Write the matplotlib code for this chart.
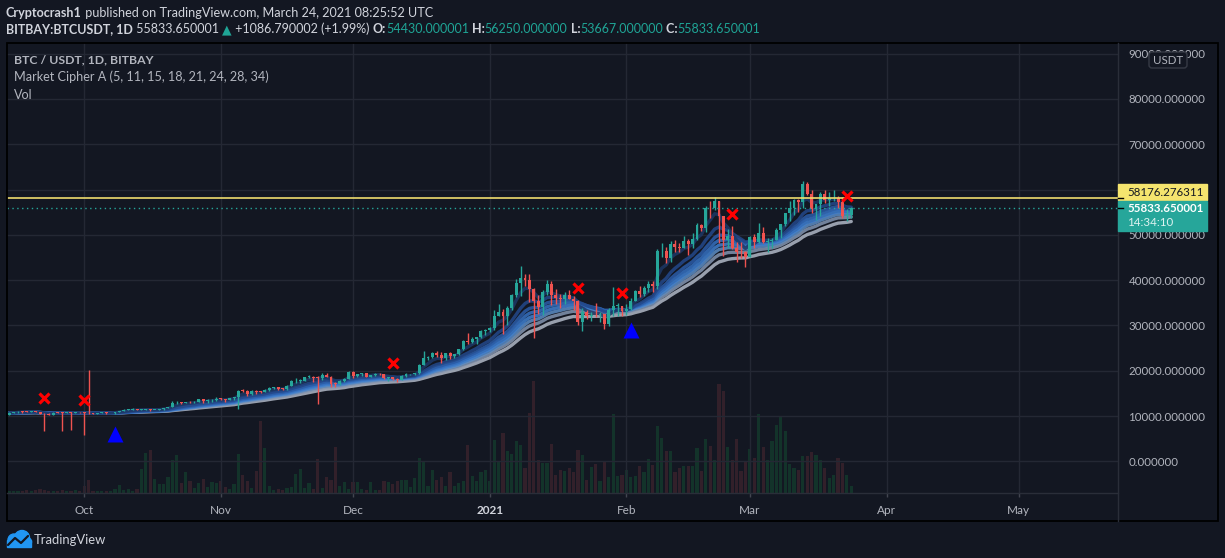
import matplotlib as mpl
mpl.use("Agg")
import matplotlib.pyplot as plt
import matplotlib.dates as mdates
from matplotlib.patches import Rectangle, FancyBboxPatch, Circle
import numpy as np
import pandas as pd

W, H = 1225, 558
BG = '#131722'
GRID = '#242834'
TXT = '#b2b5be'
UP = '#26a69a'
DN = '#ef5350'

# ---- daily candles, BITBAY:BTCUSDT 1D, 2020-09-14 .. 2021-03-24 ----
first_day = '2020-09-14'
first_open = 10330

close_sep = [10680, 10786, 10954, 10939, 10933, 11080, 10920, 10417, 10350, 10241, 10736, 10686,
             10650, 10775, 10690, 10844, 10784]
high_sep = [10830, 10950, 11100, 11040, 11040, 11180, 11055, 10990, 10580, 10580, 10800, 10790,
            10800, 10800, 10860, 10870, 10850]
low_sep = [10270, 10650, 10680, 10760, 10815, 10890, 10780, 10360, 6750, 10150, 10200, 10620,
           6750, 10660, 6900, 10640, 10660]

close_oct = [10619, 10570, 10542, 10666, 10792, 10599, 10668, 10923, 11050, 11296, 11384, 11555,
             11425, 11429, 11505, 11322, 11359, 11483, 11742, 11916, 12823, 12965, 12931, 13108,
             13031, 13072, 13654, 13271, 13437, 13546, 13781]
high_oct = [10950, 20150, 10600, 10700, 10800, 10800, 10680, 10960, 11100, 11490, 11440, 11720,
            11560, 11560, 11620, 11545, 11400, 11500, 11825, 12000, 13240, 13350, 13030, 13170,
            13350, 13240, 13800, 13860, 13650, 13650, 14100]
low_oct = [5800, 10370, 10500, 10520, 10630, 10530, 10560, 10530, 10820, 11050, 11220, 11220,
           11300, 11280, 11260, 11200, 11300, 11350, 11400, 11700, 11900, 12700, 12740, 12880,
           12900, 12800, 13060, 12970, 12980, 13130, 13400]

close_nov = [13737, 13550, 14022, 14146, 15590, 15580, 14818, 15475, 15328, 15297, 15701, 16277,
             16317, 16068, 15955, 16716, 17645, 17804, 17817, 18621, 18642, 18370, 18364, 19160,
             18719, 17150, 17139, 17719, 18184, 19696]
high_nov = [13900, 13830, 14070, 14250, 15730, 15960, 15770, 15650, 15840, 15470, 15960, 16480,
            16490, 16320, 16140, 16880, 17860, 18480, 18140, 18700, 18960, 18750, 18770, 19420,
            19480, 18910, 17460, 17880, 18340, 19860]
low_nov = [13620, 13200, 13500, 13520, 11550, 15200, 14350, 14700, 14800, 15100, 15280, 15450,
           15950, 15800, 15700, 15850, 16550, 17200, 17350, 17760, 18340, 17610, 12650, 18050,
           18580, 16300, 16480, 16880, 17520, 18180]

close_dec = [18765, 19204, 19421, 18650, 19147, 19359, 19166, 18324, 18541, 18254, 18036, 18808,
             19175, 19273, 19426, 21335, 22797, 23107, 23821, 23455, 22719, 23810, 23232, 23729,
             24712, 26493, 26281, 27079, 27385, 28875, 28923]
high_dec = [19920, 19300, 19560, 19500, 19160, 19420, 19400, 19290, 18640, 18560, 18290, 18950,
            19410, 19350, 19570, 21560, 24300, 23280, 24170, 24300, 24100, 24000, 24100, 23800,
            24790, 26870, 28420, 27390, 27400, 28990, 29300]
low_dec = [18330, 18650, 18920, 18610, 18590, 18920, 19030, 18270, 17650, 17930, 17570, 18030,
           18700, 19000, 19050, 19290, 21230, 22350, 22760, 23080, 21810, 22350, 22600, 22700,
           23410, 24500, 25960, 26050, 25900, 27320, 27850]

close_jan = [29331, 32178, 33000, 31988, 33949, 36769, 39432, 40582, 40088, 38150, 35404, 34051,
             37371, 39145, 36742, 35994, 35828, 36631, 35891, 35468, 30850, 32945, 32078, 32259,
             32254, 32467, 30366, 33364, 34252, 34262, 33092]
high_jan = [29600, 33300, 34780, 33600, 34360, 36940, 40360, 43100, 41380, 41350, 38260, 36630,
            37850, 40100, 39700, 37950, 36850, 37450, 37850, 36400, 35600, 33830, 33450, 32940,
            34880, 32920, 32560, 33780, 38530, 34930, 34280]
low_jan = [28620, 29000, 32000, 28130, 30000, 33400, 36300, 36500, 38720, 35110, 27150, 32530,
           32380, 36700, 34400, 34720, 33850, 34800, 35800, 33400, 30070, 28850, 31400, 30930,
           31920, 30830, 29240, 29850, 31990, 32000, 32050]

close_feb = [33526, 35466, 37618, 36936, 38290, 39186, 38795, 46374, 46420, 44807, 47969, 47287,
             47153, 48577, 47911, 49133, 52119, 51552, 55906, 55841, 57408, 54088, 48891, 49676,
             47073, 46276, 46106, 45135]
high_feb = [34720, 35980, 37850, 38700, 38700, 39700, 39700, 46800, 48200, 47300, 48630, 48900,
            48150, 49700, 49000, 50500, 52600, 52500, 56300, 57500, 58350, 57500, 54200, 51370,
            52000, 48400, 48400, 46500]
low_feb = [32300, 33420, 35350, 36200, 36600, 37400, 37400, 38000, 45000, 43700, 44000, 46200,
           46300, 47000, 45570, 47050, 48900, 50900, 50700, 53800, 55500, 48200, 45300, 47000,
           46900, 44100, 44900, 43000]

close_mar = [49587, 48440, 50349, 48374, 48751, 48882, 50971, 52376, 54884, 55851, 57773, 57221,
             61188, 58968, 55605, 56900, 58912, 57648, 58030, 58102, 57351, 54083, 54430, 55833.65]
high_mar = [49800, 50200, 52600, 51800, 49400, 49200, 51450, 52400, 54900, 57400, 58000, 58000,
            61800, 61700, 60000, 56900, 59450, 60000, 59500, 59900, 58600, 58400, 55800, 56250]
low_mar = [45000, 47100, 48100, 48100, 46300, 47100, 48900, 49300, 51900, 53000, 54300, 55000,
           55900, 58900, 54800, 53300, 54100, 57000, 56300, 57500, 56000, 53700, 53000, 53667]

# volume (relative units, same order)
vol = [2, 2, 2, 2, 3, 2, 3, 4, 3, 2, 2, 2, 3, 2, 2, 3, 2,
       7, 13, 2, 2, 2, 2, 2, 4, 8, 3, 4, 2, 4, 24, 40, 43, 14, 9, 9, 16, 33, 38, 10, 21, 12, 5,
       10, 14, 6, 11, 10,
       12, 6, 4, 9, 39, 18, 12, 5, 22, 72, 45, 7, 3, 4, 3, 5, 6, 19, 24, 5, 10, 4, 34, 5, 16,
       13, 46, 7, 11, 4,
       11, 11, 4, 3, 11, 3, 3, 12, 11, 9, 12, 13, 13, 6, 15, 35, 32, 7, 23, 13, 16, 7, 21, 7,
       10, 12, 48, 17, 12, 21, 23,
       12, 53, 31, 60, 42, 39, 52, 48, 25, 80, 112, 33, 30, 30, 49, 18, 23, 22, 25, 21, 43, 38,
       13, 26, 29, 12, 32, 16, 79, 17, 18,
       23, 16, 17, 27, 21, 34, 28, 67, 55, 42, 42, 21, 25, 27, 27, 27, 45, 22, 54, 47, 33, 109,
       102, 46, 33, 54, 22, 32,
       44, 35, 79, 46, 33, 52, 68, 77, 62, 29, 25, 23, 37, 37, 41, 38, 33, 25, 15, 18, 35, 30,
       18, 7]

# Market Cipher A signals
cross_dates = ['2020-09-22', '2020-10-01', '2020-12-10', '2021-01-21', '2021-01-31',
               '2021-02-25', '2021-03-23']
cross_prices = [14040, 13470, 21640, 38200, 37230, 54600, 58580]
tri_dates = ['2020-10-08', '2021-02-02']
tri_prices = [6070, 28990]
ema_lengths = [5, 11, 15, 18, 21, 24, 28, 34]
ema_colors = ['#1d3866', '#23488a', '#2b5ca8', '#3570c0', '#3f7fcf', '#5c8cc4', '#8394b0', '#b0b8c6']

hline_level = 58176.276311
last_price = 55833.650001

close = np.array(close_sep + close_oct + close_nov + close_dec + close_jan + close_feb + close_mar, float)
high = np.array(high_sep + high_oct + high_nov + high_dec + high_jan + high_feb + high_mar, float)
low = np.array(low_sep + low_oct + low_nov + low_dec + low_jan + low_feb + low_mar, float)
opn = np.r_[first_open, close[:-1]]
opn[-1] = 54430.000001
days = pd.date_range(first_day, periods=len(close), freq='D')
x = mdates.date2num(days)
up = close >= opn

plt.rcParams['font.family'] = ['Lato', 'DejaVu Sans']
fig = plt.figure(figsize=(W / 100, H / 100), dpi=100, facecolor=BG)


def box(l, t, r, b):
    return [l / W, 1 - b / H, (r - l) / W, (b - t) / H]


# volume pane (behind)
axv = fig.add_axes(box(7, 43, 1118, 493))
axv.set_facecolor(BG)
axv.bar(x, vol, width=0.72, color=np.where(up, '#13332a', '#32202a'), zorder=1)
axv.set_ylim(0, 450)
axv.axis('off')

ax = fig.add_axes(box(7, 43, 1118, 493), sharex=axv)
ax.set_facecolor('none')
ax.set_xlim(mdates.date2num(pd.Timestamp('2020-09-13 12:00')), mdates.date2num(pd.Timestamp('2021-05-23 12:00')))
ax.set_ylim(-7000, 92360)
ax.grid(True, color=GRID, lw=1)
ax.set_axisbelow(True)
for s in ax.spines.values():
    s.set_visible(False)

# EMA ribbon (slowest first so the fast one sits on top)
cs = pd.Series(close)
for n, col in reversed(list(zip(ema_lengths, ema_colors))):
    ax.plot(x, cs.ewm(span=n, adjust=False).mean(), color=col, lw=2.4, alpha=0.85, zorder=2,
            solid_capstyle='round')

# candles
ccol = np.where(up, UP, DN)
ax.vlines(x, low, high, colors=ccol, lw=1, zorder=3)
body_lo = np.minimum(opn, close)
body_h = np.maximum(np.abs(close - opn), 150)
ax.bar(x, body_h, bottom=body_lo, width=0.66, color=ccol, zorder=4)

ax.axhline(hline_level, color='#efdd6e', lw=1.2, zorder=5)
ax.axhline(last_price, color=UP, lw=1, ls=(0, (1, 2.5)), zorder=5)

ax.plot(mdates.date2num(pd.to_datetime(cross_dates)), cross_prices, 'x', color='#ff0000',
        ms=7.5, mew=2.3, zorder=6)
ax.plot(mdates.date2num(pd.to_datetime(tri_dates)), tri_prices, '^', color='#0000ff',
        ms=11.5, mec='none', zorder=6)

# axes ticks
ax.yaxis.tick_right()
ax.set_yticks(range(0, 90001, 10000))
ax.yaxis.set_major_formatter(mpl.ticker.FuncFormatter(lambda v, p: '%.6f' % v))
ax.tick_params(axis='y', length=0, pad=7.5, labelsize=8.3, labelcolor=TXT)
months = pd.date_range('2020-10-01', '2021-05-01', freq='MS')
ax.set_xticks(mdates.date2num(months))
ax.set_xticklabels(['2021' if m.month == 1 else m.strftime('%b') for m in months])
ax.tick_params(axis='x', length=3, width=1, color='#434651', pad=6, labelsize=8.5, labelcolor=TXT)
for lab in ax.get_xticklabels():
    if lab.get_text() == '2021':
        lab.set_fontweight('bold')
        lab.set_color('#d1d4dc')

# overlay in pixel coords for frame, header, labels, footer
ov = fig.add_axes([0, 0, 1, 1], zorder=10)
ov.set_xlim(0, W)
ov.set_ylim(H, 0)
ov.axis('off')
ov.set_facecolor('none')

ov.add_patch(Rectangle((7, 43), 1211, 478, fill=False, ec='#000000', lw=1.3))
ov.plot([1118, 1118], [43, 521], color='#2a2e39', lw=1)
ov.plot([7, 1118], [493, 493], color='#2a2e39', lw=1)

fig.canvas.draw()
rend = fig.canvas.get_renderer()


def seq(xp, yp, parts, size):
    for txt, col, wt in parts:
        t = ov.text(xp, yp, txt, color=col, fontsize=size, fontweight=wt, va='center', ha='left')
        xp += t.get_window_extent(renderer=rend).width
    return xp


WHT = '#d1d4dc'
TEAL = '#1fa596'
seq(6, 13, [('Cryptocrash1', WHT, 'bold'),
            (' published on TradingView.com, March 24, 2021 08:25:52 UTC', WHT, 'normal')], 9.1)
seq(6, 29, [('BITBAY:BTCUSDT, 1D', WHT, 'bold'), (' 55833.650001 ', WHT, 'normal'),
            ('\u25b2', TEAL, 'normal'), (' +1086.790002 (+1.99%) ', WHT, 'normal'),
            ('O:', WHT, 'bold'), ('54430.000001', TEAL, 'normal'), (' H:', WHT, 'bold'),
            ('56250.000000', TEAL, 'normal'), (' L:', WHT, 'bold'), ('53667.000000', TEAL, 'normal'),
            (' C:', WHT, 'bold'), ('55833.650001', TEAL, 'normal')], 9.0)

ov.text(14, 60, 'BTC / USDT, 1D, BITBAY', color=TXT, fontsize=8.8, fontweight='bold', va='center')
ov.text(14, 77, 'Market Cipher A (5, 11, 15, 18, 21, 24, 28, 34)', color=TXT, fontsize=9.1, va='center')
ov.text(14, 95, 'Vol', color=TXT, fontsize=9.1, va='center')

# price-scale labels
yl = H - ax.transData.transform((x[0], hline_level))[1]
yp = H - ax.transData.transform((x[0], last_price))[1]
ov.add_patch(Rectangle((1118, yl - 13.5), 89, 16, color='#f5e46e', zorder=11))
ov.text(1127, yl - 5.5, '58176.276311', color='#131722', fontsize=8.3, va='center', zorder=12)
ov.add_patch(Rectangle((1118, yp - 7.5), 89, 30.5, color='#26a69a', zorder=11))
ov.text(1127, yp, '55833.650001', color='#ffffff', fontsize=8.3, fontweight='bold', va='center', zorder=12)
ov.text(1127, yp + 14, '14:34:10', color='#dff3f1', fontsize=8.3, va='center', zorder=12)
ov.plot([1118, 1123], [yl, yl], color='#000000', lw=1, zorder=12)
ov.plot([1118, 1123], [yp, yp], color='#000000', lw=1, zorder=12)

ov.add_patch(FancyBboxPatch((1149, 52), 38, 16, boxstyle='round,pad=0,rounding_size=3',
                            fc=BG, ec='#363a45', lw=1, zorder=11))
ov.text(1168, 60, 'USDT', color=TXT, fontsize=8.3, ha='center', va='center', zorder=12)

# footer logo
blue = '#2196f3'
ov.add_patch(Circle((14, 540), 6, color=blue))
ov.add_patch(Circle((22, 538), 7.5, color=blue))
ov.add_patch(Rectangle((7, 540), 24, 6.5, color=blue))
ov.add_patch(Circle((27, 542), 4.5, color=blue))
ov.plot([8, 15, 21, 28], [545, 538, 543, 536], color=BG, lw=1.6, solid_capstyle='round')
ov.text(34, 540, 'TradingView', color=WHT, fontsize=9.4, va='center')

fig.savefig('out.png', dpi=100, facecolor=BG)
